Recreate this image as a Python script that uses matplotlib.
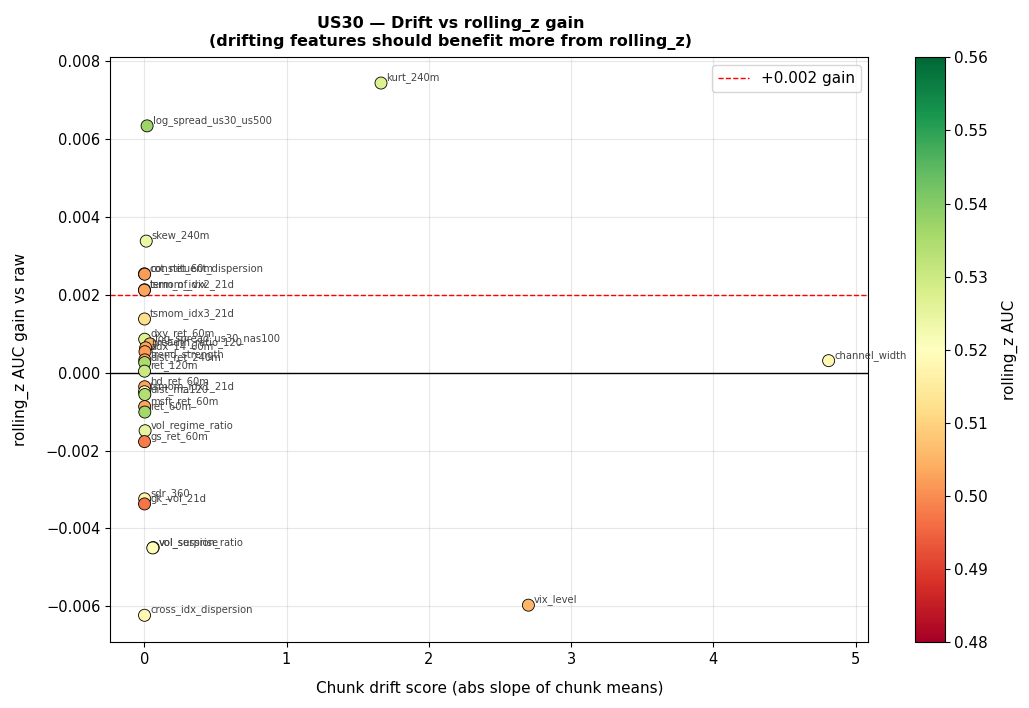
import matplotlib
matplotlib.use("Agg")
import matplotlib.pyplot as plt
import numpy as np

features = ["kurt_240m", "log_spread_us30_us500", "skew_240m", "cot_net_60m",
            "constituent_dispersion", "tsmom_idx2_21d", "term_of_vix",
            "tsmom_idx3_21d", "dxy_ret_60m", "log_spread_us30_nas100",
            "breadth_ratio_120", "adx_14_60m", "trend_strength", "dist_ret_240m",
            "ret_120m", "hd_ret_60m", "tsmom_idx1_21d", "dist_ma120", "msft_ret_60m",
            "ret_60m", "vol_regime_ratio", "gs_ret_60m", "sdr_360", "gk_vol_21d",
            "vol_surprise", "vol_session_ratio", "cross_idx_dispersion",
            "vix_level", "channel_width"]
drift = [1.664, 0.020, 0.014, 0.001, 0.003, 0.002, 0.001,
         0.002, 0.003, 0.040, 0.010, 0.005, 0.004, 0.003,
         0.002, 0.003, 0.002, 0.004, 0.003,
         0.004, 0.006, 0.002, 0.003, 0.002,
         0.063, 0.060, 0.002,
         2.700, 4.810]
gain = [0.00744, 0.00634, 0.00338, 0.00254, 0.00253, 0.00213, 0.00212,
        0.00138, 0.00086, 0.00074, 0.00064, 0.00054, 0.00033, 0.00026,
        0.00004, -0.00036, -0.00049, -0.00056, -0.00087,
        -0.00101, -0.00149, -0.00177, -0.00324, -0.00337,
        -0.00449, -0.00450, -0.00623,
        -0.00597, 0.00031]
auc = [0.527, 0.537, 0.524, 0.503, 0.502, 0.502, 0.503,
       0.512, 0.527, 0.505, 0.503, 0.502, 0.503, 0.535,
       0.530, 0.503, 0.520, 0.534, 0.503,
       0.536, 0.525, 0.498, 0.517, 0.497,
       0.520, 0.519, 0.518,
       0.505, 0.518]

fig, ax = plt.subplots(figsize=(10.29, 7.08), dpi=100)
fig.subplots_adjust(left=0.107, right=0.844, top=0.919, bottom=0.093)

sc = ax.scatter(drift, gain, c=auc, cmap="RdYlGn", vmin=0.48, vmax=0.56,
                s=75, edgecolors="black", linewidths=0.6, zorder=3)
for name, x, y in zip(features, drift, gain):
    ax.annotate(name, (x, y), xytext=(4, 2), textcoords="offset points",
                fontsize=7.2, color="#444444", zorder=4)

ax.axhline(0, color="black", linewidth=1, zorder=2)
ax.axhline(0.002, color="red", linestyle="--", linewidth=1, label="+0.002 gain", zorder=2)
ax.grid(True, alpha=0.3)
ax.set_xlim(-0.24, 5.09)
ax.set_ylim(-0.00692, 0.00810)
ax.tick_params(labelsize=10.5)
ax.set_xlabel("Chunk drift score (abs slope of chunk means)", fontsize=11, labelpad=10)
ax.set_ylabel("rolling_z AUC gain vs raw", fontsize=11, labelpad=12)
ax.set_title("US30 — Drift vs rolling_z gain\n(drifting features should benefit more from rolling_z)",
             fontsize=11.5, fontweight="bold", pad=8, x=0.449)
ax.legend(loc="upper right", fontsize=11)

cax = fig.add_axes([0.889, 0.093, 0.029, 0.826])
cb = fig.colorbar(sc, cax=cax)
cb.ax.tick_params(labelsize=11)
cb.set_label("rolling_z AUC", fontsize=11, labelpad=10)

fig.savefig("out.png", dpi=100)
